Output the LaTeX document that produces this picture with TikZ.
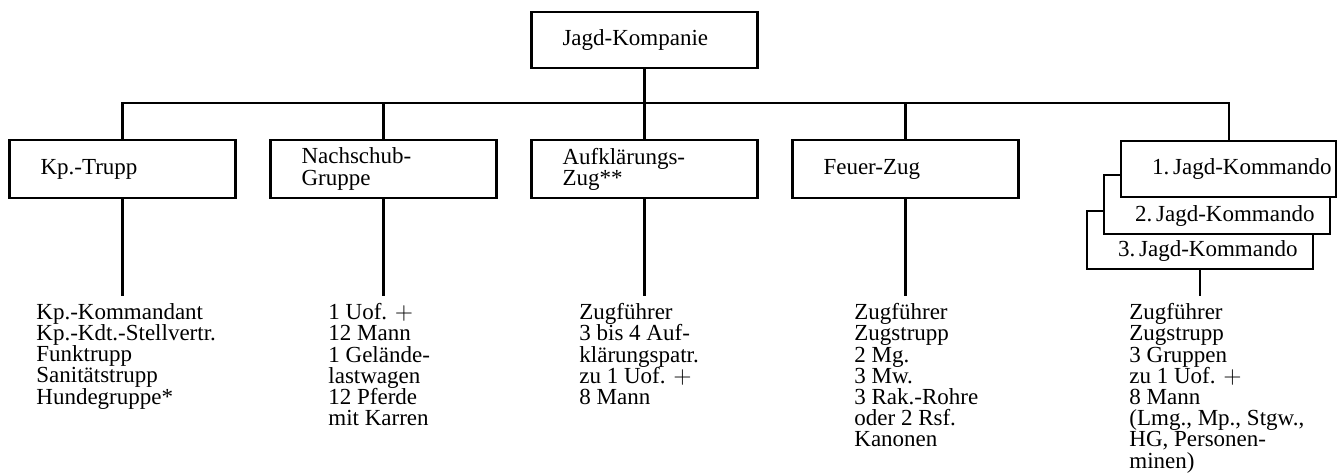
\documentclass[tikz,border=0pt]{standalone}
\usepackage{fontspec}
\setmainfont{Liberation Serif}
\usetikzlibrary{positioning}
\tikzset{
x=0.5pt, % one unit is one pixel of the scan
y=-0.5pt, % y counts downwards, as on the page
node distance=130.5pt, % spacing of the boxes in the middle row
unit/.style={draw, line width=1.1pt, fill=white, text width=82pt, inner xsep=15.5pt, align=left, minimum height=29pt}, % one box of the chart
stack/.style={unit, minimum height=0pt, inner ysep=0pt, anchor=north west}, % the piled Jagd-Kommando boxes
info/.style={align=left, inner xsep=0pt, inner ysep=3.5pt, anchor=north west}, % list under a box
link/.style={line width=1.1pt}, % connecting lines
}

\begin{document}
\begin{tikzpicture}[font=\fontsize{11.5pt}{10.6pt}\selectfont]
    \useasboundingbox (0,0) rectangle (1339,472);
    % middle row
    \node[unit] (kp) at (122.5,169) {Kp.-Trupp};
    \node[unit, right of=kp] (nach) {Nachschub-\\Gruppe};
    \node[unit, right of=nach] (aufkl) {Aufklärungs-\\Zug**};
    \node[unit, right of=aufkl] (feuer) {Feuer-Zug};
    \node[unit, minimum height=28pt, node distance=64.5pt, above of=aufkl] (komp) {Jagd-Kompanie};
    % the three Jagd-Kommandos, back to front
    \node[stack, text height=22.5pt, text depth=6.5pt] (jk3) at (1086,210) {\mbox{3.\,Jagd-Kommando}};
    \node[stack, text height=23pt, text depth=6.5pt] (jk2) at (1103,174) {\mbox{2.\,Jagd-Kommando}};
    \node[stack, text width=76.5pt, text height=16.5pt, text depth=11.5pt] (jk1) at (1120,140) {\mbox{1.\,Jagd-Kommando}};
    % lists
    \node[info] (kpinfo) at (36,296) {Kp.-Kommandant\\Kp.-Kdt.-Stellvertr.\\Funktrupp\\Sanitätstrupp\\Hundegruppe*};
    \node[info] (nachinfo) at (328,296) {1 Uof. $+$\\12 Mann\\1 Gelände-\\lastwagen\\12 Pferde\\mit Karren};
    \node[info] (aufklinfo) at (579,296) {Zugführer\\3 bis 4 Auf-\\klärungspatr.\\zu 1 Uof. $+$\\8 Mann};
    \node[info] (feuerinfo) at (854,296) {Zugführer\\Zugstrupp\\2 Mg.\\3 Mw.\\3 Rak.-Rohre\\oder 2 Rsf.\\Kanonen};
    \node[info] (jkinfo) at (1129,296) {Zugführer\\Zugstrupp\\3 Gruppen\\zu 1 Uof. $+$\\8 Mann\\(Lmg., Mp., Stgw.,\\HG, Personen-\\minen)};
    \coordinate (bus) at (0,103);
    \draw[link] (komp.south) -- (komp.south |- bus);
    \draw[link] (kp.north) |- (jk1.north |- bus) -- (jk1.north);
    \foreach \b in {nach, aufkl, feuer}
        \draw[link] (\b.north) -- (\b.north |- bus);
    \foreach \b/\l in {kp/kpinfo, nach/nachinfo, aufkl/aufklinfo, feuer/feuerinfo, jk3/jkinfo}
        \draw[link] (\b.south) -- (\b.south |- \l.north);
\end{tikzpicture}
\end{document}
